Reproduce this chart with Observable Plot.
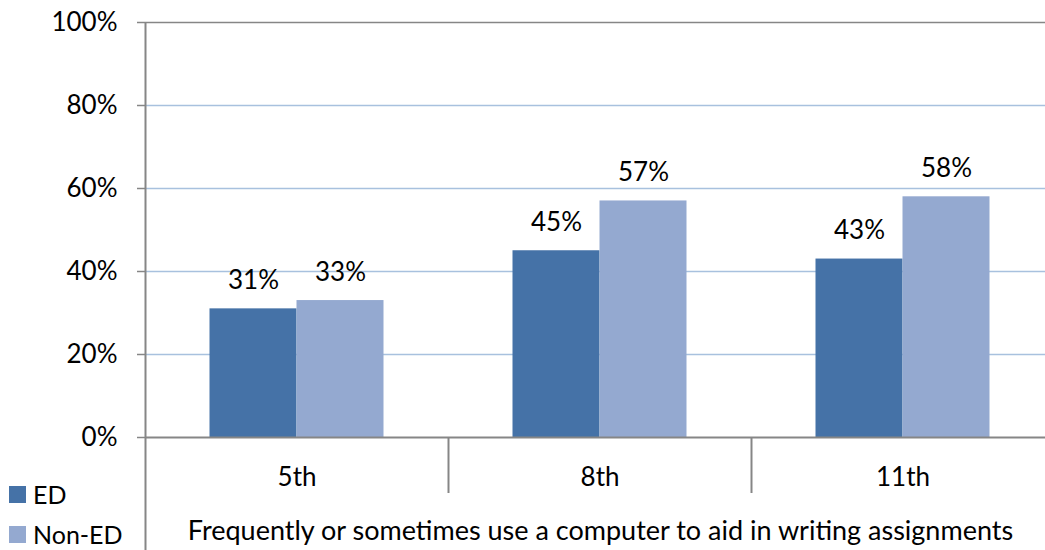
<!DOCTYPE html>
<html>
<head>
<meta charset="utf-8">
<script src="https://cdn.jsdelivr.net/npm/d3@7"></script>
<script src="https://cdn.jsdelivr.net/npm/@observablehq/plot@0.6"></script>
<style>
  html, body { margin: 0; padding: 0; background: #fff; overflow: hidden; }
  #wrap { position: relative; width: 1045px; height: 550px; overflow: hidden; font-family: Lato, "Open Sans", sans-serif; }
  #legend { position: absolute; left: 9px; top: 474px; font-size: 25px; color: #000; }
  #legend .item { display: flex; align-items: center; height: 40px; line-height: 24px; }
  #legend .sw { width: 17px; height: 17px; margin-right: 7px; }
</style>
</head>
<body>
<div id="wrap">
  <div id="chart"></div>
  <div id="legend"></div>
</div>
<script>
const grades = ["5th", "8th", "11th"];
const series = ["ED", "Non-ED"];
const edValues = [31, 45, 43];
const nonEdValues = [33, 57, 58];
const yTicks = [0, 20, 40, 60, 80, 100];
const gridTicks = [20, 40, 60, 80];
const colors = ["#4572a7", "#94a9d0"];
const xTitle = "Frequently or sometimes use a computer to aid in writing assignments";

const rows = [];
grades.forEach((g, i) => {
  rows.push({grade: g, series: "ED", value: edValues[i]});
  rows.push({grade: g, series: "Non-ED", value: nonEdValues[i]});
});
const ed = rows.filter(d => d.series === "ED");
const non = rows.filter(d => d.series === "Non-ED");

const band = 303;
const barW = 87;
const outer = (band - 2 * barW) / 2;
const half = band / 2;
const font = "Lato, 'Open Sans', sans-serif";
const fs = 26;

const chart = Plot.plot({
  width: 1045,
  height: 550,
  marginTop: 22,
  marginBottom: 113,
  marginLeft: 145,
  marginRight: 0,
  style: {fontFamily: font, fontSize: fs + "px", color: "#000", background: "#fff", overflow: "visible"},
  x: {domain: grades, range: [145, 145 + 3 * band], padding: 0},
  y: {domain: [0, 100]},
  color: {domain: series, range: colors},
  marks: [
    Plot.ruleY(gridTicks, {stroke: "#a8c1de", strokeWidth: 1.5}),
    Plot.ruleY([100], {stroke: "#868686", strokeWidth: 1.5}),
    Plot.barY(ed, {x: "grade", y: "value", fill: d => d.series, insetLeft: outer, insetRight: outer + barW}),
    Plot.barY(non, {x: "grade", y: "value", fill: d => d.series, insetLeft: outer + barW, insetRight: outer}),
    Plot.text(ed, {x: "grade", y: "value", text: d => d.value + "%", dx: -barW / 2, dy: -20, textAnchor: "middle", lineAnchor: "bottom", fontSize: fs, fill: "#000"}),
    Plot.text(non, {x: "grade", y: "value", text: d => d.value + "%", dx: barW / 2, dy: -20, textAnchor: "middle", lineAnchor: "bottom", fontSize: fs, fill: "#000"}),
    Plot.ruleY([0], {stroke: "#868686", strokeWidth: 2}),
    Plot.ruleX(["5th"], {x: d => d, y1: 100, y2: 0, dx: -half, insetBottom: -113, stroke: "#868686", strokeWidth: 2}),
    Plot.ruleX(["8th", "11th"], {x: d => d, y1: 0, y2: 0, dx: -half, insetBottom: -56, stroke: "#868686", strokeWidth: 2}),
    Plot.axisY({ticks: yTicks, tickFormat: d => d + "%", tickSize: 8, tickPadding: 20, stroke: "#868686", strokeWidth: 1.5, label: null, fontSize: fs}),
    Plot.axisX({tickSize: 0, tickPadding: 30, label: null, fontSize: fs}),
    Plot.text([xTitle], {frameAnchor: "bottom", dx: 5, dy: 102, fontSize: 27, fill: "#000"})
  ]
});
document.getElementById("chart").appendChild(chart);

const legend = document.getElementById("legend");
series.forEach((s, i) => {
  const item = document.createElement("div");
  item.className = "item";
  const sw = document.createElement("span");
  sw.className = "sw";
  sw.style.background = colors[i];
  const lab = document.createElement("span");
  lab.textContent = s;
  item.appendChild(sw);
  item.appendChild(lab);
  legend.appendChild(item);
});
</script>
</body>
</html>
